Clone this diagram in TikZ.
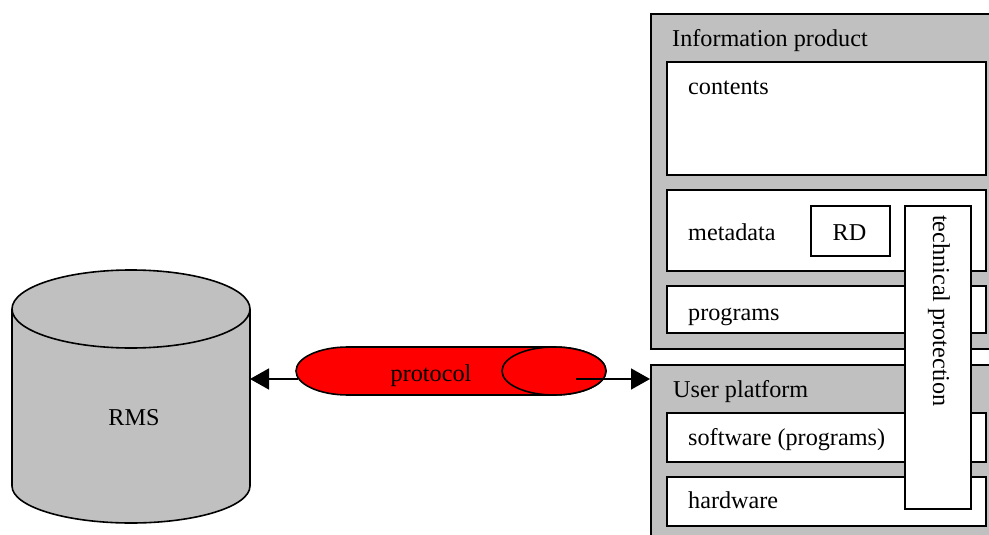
\documentclass[tikz,border=0pt]{standalone}
\usepackage{fontspec}
\setmainfont{Liberation Serif}
\usetikzlibrary{arrows.meta}
\definecolor{silver}{HTML}{C0C0C0}
\definecolor{pipered}{HTML}{FF0000}
\tikzset{
  lw/.style={line width=1.6pt},
  gbox/.style={draw, lw, fill=silver, rectangle, anchor=north west, inner sep=0pt},
  wbox/.style={draw, lw, fill=white, rectangle, anchor=north west, inner sep=0pt},
  lbl/.style={inner sep=0pt, anchor=base west, font=\fontsize{24.2}{29}\selectfont},
  clbl/.style={lbl, anchor=base},
  arr/.style={lw, -{Triangle[length=19pt,width=21pt]}}
}
\begin{document}
\begin{tikzpicture}[x=1pt,y=1pt]
\useasboundingbox (0,0) rectangle (989,-535);
\clip (0,0) rectangle (989,-535);
% Information product
\node[gbox, minimum width=360pt, minimum height=335pt] (ip) at (650,-13) {};
\node[lbl] (ipl) at (672,-47) {Information product};
\node[wbox, minimum width=319pt, minimum height=113pt] (cont) at (666,-61) {};
\node[lbl] (contl) at (688,-95) {contents};
\node[wbox, minimum width=319pt, minimum height=81pt] (meta) at (666,-189) {};
\node[lbl] (metal) at (688,-240) {metadata};
\node[wbox, minimum width=79pt, minimum height=50pt] (rd) at (810,-205) {};
\node[clbl] (rdl) at (849.5,-240) {RD};
\node[wbox, minimum width=319pt, minimum height=47pt] (prog) at (666,-285) {};
\node[lbl] (progl) at (688,-320) {programs};
% User platform
\node[gbox, minimum width=360pt, minimum height=200pt] (up) at (650,-364) {};
\node[lbl] (upl) at (673,-397) {User platform};
\node[wbox, minimum width=319pt, minimum height=49pt] (soft) at (666,-412) {};
\node[lbl] (softl) at (688,-445) {software (programs)};
\node[wbox, minimum width=319pt, minimum height=49pt] (hard) at (666,-476) {};
\node[lbl] (hardl) at (688,-508) {hardware};
% technical protection
\node[wbox, minimum width=66pt, minimum height=303pt] (tech) at (904,-205) {};
\node[lbl, rotate=-90] (techl) at (933,-215) {technical protection};
% RMS cylinder
\draw[lw, fill=silver] (12,-309) -- (12,-486)
  arc[start angle=180, end angle=360, x radius=119, y radius=37]
  -- (250,-309)
  arc[start angle=0, end angle=180, x radius=119, y radius=39] -- cycle;
\draw[lw] (12,-309) arc[start angle=180, end angle=360, x radius=119, y radius=39];
\node[clbl] (rms) at (134,-425) {RMS};
\coordinate (rmsR) at (250,-379);
% protocol pipe
\draw[lw, fill=pipered] (348,-347) -- (554,-347)
  arc[start angle=90, end angle=-90, x radius=52, y radius=24]
  -- (348,-395)
  arc[start angle=270, end angle=90, x radius=52, y radius=24] -- cycle;
\draw[lw, fill=pipered] (554,-371) ellipse[x radius=52, y radius=24];
\node[clbl] (proto) at (431,-381) {protocol};
\coordinate (pipeL) at (298,-379);
\coordinate (pipeR) at (576,-379);
% connectors
\draw[arr] (pipeL) -- (rmsR);
\draw[arr] (pipeR) -- (up.west |- pipeR);
\end{tikzpicture}
\end{document}
